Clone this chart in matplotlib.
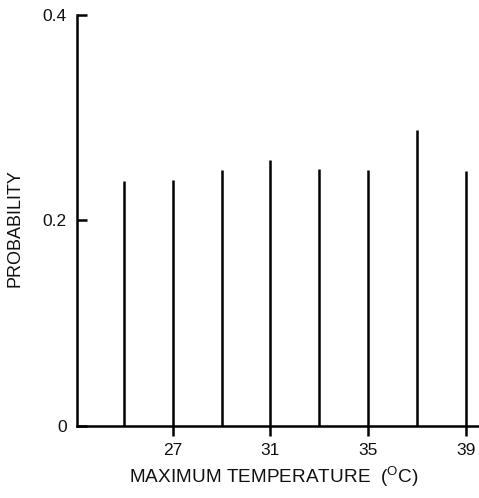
import matplotlib
matplotlib.use("Agg")
import matplotlib.pyplot as plt

temps = [25, 27, 29, 31, 33, 35, 37, 39]
probs = [0.238, 0.239, 0.249, 0.259, 0.250, 0.249, 0.288, 0.248]
xticks = [27, 31, 35, 39]
yticks = [0, 0.2, 0.4]
yticklabels = ["0", "0.2", "0.4"]

plt.rcParams['font.family'] = ['Liberation Sans', 'DejaVu Sans']
plt.rcParams['mathtext.fontset'] = 'custom'
plt.rcParams['mathtext.rm'] = 'Liberation Sans'

W, H = 479, 498
fig = plt.figure(figsize=(W / 100, H / 100), dpi=100)
left, right, top, bottom = 76.5, 479, 15, 426
ax = fig.add_axes([left / W, 1 - bottom / H, (right - left) / W, (bottom - top) / H])

ax.vlines(temps, 0, probs, colors='black', linewidth=1.8)

ax.set_xlim(23.05, 39.55)
ax.set_ylim(0, 0.4)
for s in ['top', 'right']:
    ax.spines[s].set_visible(False)
for s in ['left', 'bottom']:
    ax.spines[s].set_linewidth(1.8)
    ax.spines[s].set_color('black')

ax.set_xticks(xticks)
ax.set_xticklabels([str(t) for t in xticks])
ax.set_yticks(yticks)
ax.set_yticklabels(yticklabels)
ax.tick_params(axis='x', direction='out', length=7, width=1.8, pad=5, labelsize=12.5, labelcolor='#111111')
ax.tick_params(axis='y', direction='in', length=7, width=1.8, pad=7, labelsize=12.5, labelcolor='#111111')

ax.set_xlabel(r'MAXIMUM TEMPERATURE  ($^{\mathrm{O}}$C)', fontsize=13.7, color='#111111')
ax.set_ylabel('PROBABILITY', fontsize=13, color='#111111')
ax.xaxis.label.set_va('center')
ax.yaxis.label.set_va('center')
ax.xaxis.set_label_coords(274 / W, 1 - 477 / H, transform=fig.transFigure)
ax.yaxis.set_label_coords(15 / W, 1 - 228 / H, transform=fig.transFigure)

fig.savefig('out.png', dpi=100)
